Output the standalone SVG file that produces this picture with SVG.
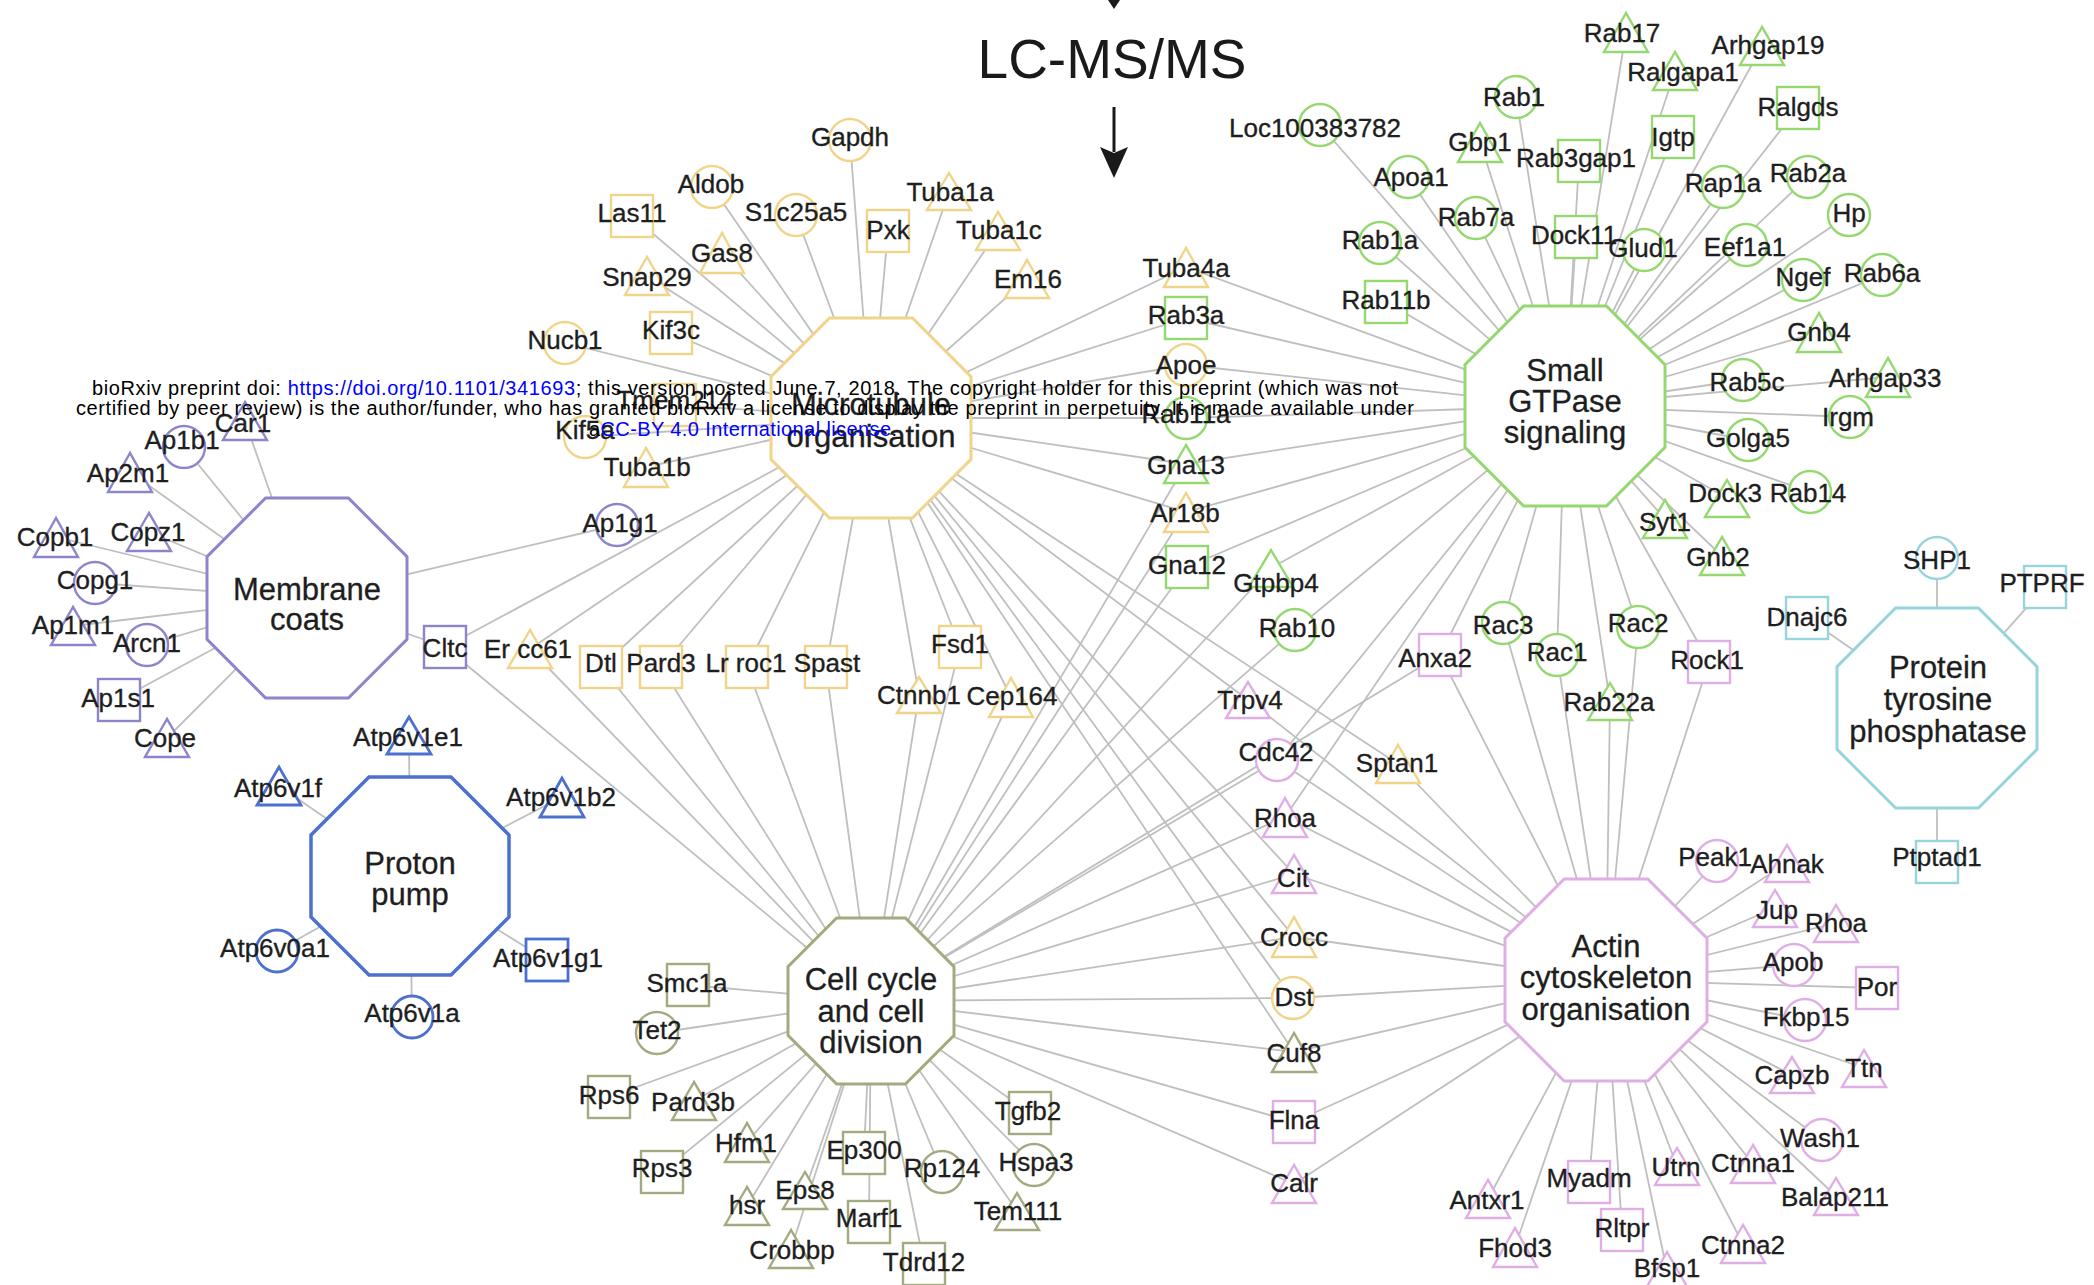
<svg xmlns="http://www.w3.org/2000/svg" width="2094" height="1285" viewBox="0 0 2094 1285">
<style>
.bg{fill:#fff}
#connectors line{stroke:#bfbfbf;stroke-width:1.8}
.s{fill:#fff;stroke-width:2.4}
.hub polygon{fill:#fff;stroke-width:3}
.y{stroke:#f0d48a}.g{stroke:#94d86f}.p{stroke:#dfaee4}.o{stroke:#a3aa80}.u{stroke:#8c85c9}.b{stroke:#4c70cf;stroke-width:2.8}.c{stroke:#98d4db}
text{font-family:"Liberation Sans",Arial,sans-serif;fill:#1e1e1e;text-anchor:middle}
.l{font-size:26px;stroke:#1e1e1e;stroke-width:0.35}
.hub text{font-size:31px;stroke:#1e1e1e;stroke-width:0.3}
.hdr{font-size:20px;fill:#000}
.lnk{fill:#0000ff}
</style>
<rect class="bg" x="0" y="0" width="2094" height="1285"/>
<g id="connectors">
<!-- Microtubule -->
<line x1="871" y1="418" x2="850" y2="140"/><line x1="871" y1="418" x2="712" y2="187"/><line x1="871" y1="418" x2="632" y2="216"/><line x1="871" y1="418" x2="796" y2="215"/><line x1="871" y1="418" x2="888" y2="231"/><line x1="871" y1="418" x2="949" y2="192"/><line x1="871" y1="418" x2="998" y2="231"/><line x1="871" y1="418" x2="1027" y2="279"/><line x1="871" y1="418" x2="722" y2="253"/><line x1="871" y1="418" x2="647" y2="276"/><line x1="871" y1="418" x2="671" y2="333"/><line x1="871" y1="418" x2="565" y2="343"/><line x1="871" y1="418" x2="675" y2="405"/><line x1="871" y1="418" x2="585" y2="437"/><line x1="871" y1="418" x2="646" y2="467"/><line x1="871" y1="418" x2="1186" y2="267"/><line x1="871" y1="418" x2="1186" y2="318"/><line x1="871" y1="418" x2="1186" y2="365"/><line x1="871" y1="418" x2="1186" y2="418"/><line x1="871" y1="418" x2="1186" y2="464"/><line x1="871" y1="418" x2="1186" y2="512"/><line x1="871" y1="418" x2="530" y2="649"/><line x1="871" y1="418" x2="601" y2="667"/><line x1="871" y1="418" x2="661" y2="667"/><line x1="871" y1="418" x2="747" y2="667"/><line x1="871" y1="418" x2="826" y2="667"/><line x1="871" y1="418" x2="960" y2="647"/><line x1="871" y1="418" x2="919" y2="695"/><line x1="871" y1="418" x2="1011" y2="697"/><line x1="871" y1="418" x2="1398" y2="764"/><line x1="871" y1="418" x2="1294" y2="937"/><line x1="871" y1="418" x2="1293" y2="998"/><line x1="871" y1="418" x2="445" y2="647"/><line x1="871" y1="418" x2="1248" y2="700"/><line x1="871" y1="418" x2="1294" y2="874"/><line x1="871" y1="418" x2="1294" y2="1052"/>
<!-- Cell cycle -->
<line x1="871" y1="1001" x2="688" y2="985"/><line x1="871" y1="1001" x2="657" y2="1033"/><line x1="871" y1="1001" x2="609" y2="1097"/><line x1="871" y1="1001" x2="694" y2="1101"/><line x1="871" y1="1001" x2="747" y2="1142"/><line x1="871" y1="1001" x2="662" y2="1172"/><line x1="871" y1="1001" x2="864" y2="1153"/><line x1="871" y1="1001" x2="942" y2="1172"/><line x1="871" y1="1001" x2="747" y2="1206"/><line x1="871" y1="1001" x2="805" y2="1190"/><line x1="871" y1="1001" x2="869" y2="1222"/><line x1="871" y1="1001" x2="791" y2="1249"/><line x1="871" y1="1001" x2="924" y2="1264"/><line x1="871" y1="1001" x2="1030" y2="1113"/><line x1="871" y1="1001" x2="1034" y2="1165"/><line x1="871" y1="1001" x2="1017" y2="1211"/><line x1="871" y1="1001" x2="1294" y2="1052"/><line x1="871" y1="1001" x2="530" y2="649"/><line x1="871" y1="1001" x2="601" y2="667"/><line x1="871" y1="1001" x2="661" y2="667"/><line x1="871" y1="1001" x2="747" y2="667"/><line x1="871" y1="1001" x2="826" y2="667"/><line x1="871" y1="1001" x2="960" y2="647"/><line x1="871" y1="1001" x2="919" y2="695"/><line x1="871" y1="1001" x2="1011" y2="697"/><line x1="871" y1="1001" x2="445" y2="647"/><line x1="871" y1="1001" x2="1186" y2="464"/><line x1="871" y1="1001" x2="1186" y2="512"/><line x1="871" y1="1001" x2="1187" y2="567"/><line x1="871" y1="1001" x2="1271" y2="568"/><line x1="871" y1="1001" x2="1295" y2="630"/><line x1="871" y1="1001" x2="1277" y2="760"/><line x1="871" y1="1001" x2="1285" y2="817"/><line x1="871" y1="1001" x2="1294" y2="874"/><line x1="871" y1="1001" x2="1294" y2="937"/><line x1="871" y1="1001" x2="1293" y2="998"/><line x1="871" y1="1001" x2="1294" y2="1122"/><line x1="871" y1="1001" x2="1294" y2="1184"/><line x1="871" y1="1001" x2="1440" y2="655"/>
<!-- Small GTPase -->
<line x1="1565" y1="406" x2="1320" y2="125"/><line x1="1565" y1="406" x2="1516" y2="97"/><line x1="1565" y1="406" x2="1480" y2="142"/><line x1="1565" y1="406" x2="1408" y2="177"/><line x1="1565" y1="406" x2="1579" y2="161"/><line x1="1565" y1="406" x2="1476" y2="218"/><line x1="1565" y1="406" x2="1576" y2="237"/><line x1="1565" y1="406" x2="1380" y2="243"/><line x1="1565" y1="406" x2="1386" y2="302"/><line x1="1565" y1="406" x2="1626" y2="32"/><line x1="1565" y1="406" x2="1762" y2="46"/><line x1="1565" y1="406" x2="1675" y2="71"/><line x1="1565" y1="406" x2="1798" y2="108"/><line x1="1565" y1="406" x2="1673" y2="137"/><line x1="1565" y1="406" x2="1723" y2="187"/><line x1="1565" y1="406" x2="1808" y2="177"/><line x1="1565" y1="406" x2="1849" y2="215"/><line x1="1565" y1="406" x2="1644" y2="250"/><line x1="1565" y1="406" x2="1746" y2="245"/><line x1="1565" y1="406" x2="1803" y2="280"/><line x1="1565" y1="406" x2="1882" y2="275"/><line x1="1565" y1="406" x2="1819" y2="332"/><line x1="1565" y1="406" x2="1743" y2="380"/><line x1="1565" y1="406" x2="1888" y2="377"/><line x1="1565" y1="406" x2="1850" y2="417"/><line x1="1565" y1="406" x2="1748" y2="440"/><line x1="1565" y1="406" x2="1727" y2="498"/><line x1="1565" y1="406" x2="1810" y2="492"/><line x1="1565" y1="406" x2="1665" y2="519"/><line x1="1565" y1="406" x2="1722" y2="556"/><line x1="1565" y1="406" x2="1186" y2="267"/><line x1="1565" y1="406" x2="1186" y2="318"/><line x1="1565" y1="406" x2="1186" y2="365"/><line x1="1565" y1="406" x2="1186" y2="418"/><line x1="1565" y1="406" x2="1186" y2="464"/><line x1="1565" y1="406" x2="1186" y2="512"/><line x1="1565" y1="406" x2="1187" y2="567"/><line x1="1565" y1="406" x2="1271" y2="568"/><line x1="1565" y1="406" x2="1295" y2="630"/><line x1="1565" y1="406" x2="1503" y2="623"/><line x1="1565" y1="406" x2="1557" y2="655"/><line x1="1565" y1="406" x2="1638" y2="627"/><line x1="1565" y1="406" x2="1610" y2="701"/><line x1="1565" y1="406" x2="1440" y2="655"/><line x1="1565" y1="406" x2="1709" y2="662"/><line x1="1565" y1="406" x2="1277" y2="760"/><line x1="1565" y1="406" x2="1285" y2="817"/>
<!-- Actin -->
<line x1="1606" y1="980" x2="1717" y2="861"/><line x1="1606" y1="980" x2="1787" y2="863"/><line x1="1606" y1="980" x2="1775" y2="908"/><line x1="1606" y1="980" x2="1836" y2="923"/><line x1="1606" y1="980" x2="1794" y2="965"/><line x1="1606" y1="980" x2="1877" y2="988"/><line x1="1606" y1="980" x2="1805" y2="1020"/><line x1="1606" y1="980" x2="1792" y2="1075"/><line x1="1606" y1="980" x2="1864" y2="1068"/><line x1="1606" y1="980" x2="1822" y2="1140"/><line x1="1606" y1="980" x2="1753" y2="1164"/><line x1="1606" y1="980" x2="1836" y2="1196"/><line x1="1606" y1="980" x2="1677" y2="1166"/><line x1="1606" y1="980" x2="1589" y2="1182"/><line x1="1606" y1="980" x2="1622" y2="1230"/><line x1="1606" y1="980" x2="1743" y2="1244"/><line x1="1606" y1="980" x2="1667" y2="1271"/><line x1="1606" y1="980" x2="1488" y2="1199"/><line x1="1606" y1="980" x2="1515" y2="1247"/><line x1="1606" y1="980" x2="1440" y2="655"/><line x1="1606" y1="980" x2="1709" y2="662"/><line x1="1606" y1="980" x2="1248" y2="700"/><line x1="1606" y1="980" x2="1277" y2="760"/><line x1="1606" y1="980" x2="1285" y2="817"/><line x1="1606" y1="980" x2="1294" y2="874"/><line x1="1606" y1="980" x2="1294" y2="937"/><line x1="1606" y1="980" x2="1293" y2="998"/><line x1="1606" y1="980" x2="1294" y2="1052"/><line x1="1606" y1="980" x2="1294" y2="1122"/><line x1="1606" y1="980" x2="1294" y2="1184"/><line x1="1606" y1="980" x2="1398" y2="764"/><line x1="1606" y1="980" x2="1503" y2="623"/><line x1="1606" y1="980" x2="1557" y2="655"/><line x1="1606" y1="980" x2="1638" y2="627"/><line x1="1606" y1="980" x2="1610" y2="701"/>
<!-- Membrane coats -->
<line x1="307" y1="598" x2="245" y2="421"/><line x1="307" y1="598" x2="184" y2="447"/><line x1="307" y1="598" x2="130" y2="472"/><line x1="307" y1="598" x2="56" y2="537"/><line x1="307" y1="598" x2="149" y2="532"/><line x1="307" y1="598" x2="95" y2="583"/><line x1="307" y1="598" x2="73" y2="626"/><line x1="307" y1="598" x2="147" y2="645"/><line x1="307" y1="598" x2="119" y2="700"/><line x1="307" y1="598" x2="167" y2="738"/><line x1="307" y1="598" x2="445" y2="647"/><line x1="307" y1="598" x2="617" y2="525"/>
<!-- Proton pump -->
<line x1="410" y1="876" x2="409" y2="735"/><line x1="410" y1="876" x2="279" y2="786"/><line x1="410" y1="876" x2="562" y2="797"/><line x1="410" y1="876" x2="547" y2="960"/><line x1="410" y1="876" x2="277" y2="951"/><line x1="410" y1="876" x2="412" y2="1017"/>
<!-- Protein tyrosine phosphatase -->
<line x1="1937" y1="708" x2="1937" y2="558"/><line x1="1937" y1="708" x2="2045" y2="587"/><line x1="1937" y1="708" x2="1807" y2="618"/><line x1="1937" y1="708" x2="1937" y2="862"/>
</g>

<g id="title">
<polygon points="1100,-12 1128,-12 1114,9" fill="#1a1a1a"/>
<text x="1112" y="78" style="font-size:55px;fill:#1a1a1a">LC-MS/MS</text>
<line x1="1114" y1="107" x2="1114" y2="152" stroke="#1a1a1a" stroke-width="3"/>
<polygon points="1100,147 1114,153 1128,147 1114,178" fill="#1a1a1a"/>
</g>

<!-- Hubs -->
<g id="hub-microtubule" class="hub"><polygon class="y" points="829.6,318 912.4,318 971,376.6 971,459.4 912.4,518 829.6,518 771,459.4 771,376.6"/><text x="871" y="415">Microtubule</text><text x="871" y="447">organisation</text></g>
<g id="hub-gtpase" class="hub"><polygon class="g" points="1523.6,306 1606.4,306 1665,364.6 1665,447.4 1606.4,506 1523.6,506 1465,447.4 1465,364.6"/><text x="1565" y="381">Small</text><text x="1565" y="412">GTPase</text><text x="1565" y="443">signaling</text></g>
<g id="hub-membrane" class="hub"><polygon class="u" points="265.6,498 348.4,498 407,556.6 407,639.4 348.4,698 265.6,698 207,639.4 207,556.6"/><text x="307" y="600">Membrane</text><text x="307" y="630">coats</text></g>
<g id="hub-proton" class="hub"><polygon class="b" style="stroke-width:3.5" points="369,777 451,777 509,835 509,917 451,975 369,975 311,917 311,835"/><text x="410" y="874">Proton</text><text x="410" y="905">pump</text></g>
<g id="hub-cellcycle" class="hub"><polygon class="o" points="836.6,918 905.4,918 954,966.6 954,1035.4 905.4,1084 836.6,1084 788,1035.4 788,966.6"/><text x="871" y="990">Cell cycle</text><text x="871" y="1022">and cell</text><text x="871" y="1053">division</text></g>
<g id="hub-actin" class="hub"><polygon class="p" points="1564.2,879 1647.8,879 1707,938.2 1707,1021.8 1647.8,1081 1564.2,1081 1505,1021.8 1505,938.2"/><text x="1606" y="957">Actin</text><text x="1606" y="988">cytoskeleton</text><text x="1606" y="1020">organisation</text></g>
<g id="hub-ptp" class="hub"><polygon class="c" points="1895.6,608 1978.4,608 2037,666.6 2037,749.4 1978.4,808 1895.6,808 1837,749.4 1837,666.6"/><text x="1938" y="678">Protein</text><text x="1938" y="710">tyrosine</text><text x="1938" y="742">phosphatase</text></g>

<!-- Microtubule nodes -->
<g id="n-gapdh"><circle class="s y" cx="850" cy="140" r="21"/><text class="l" x="850" y="146">Gapdh</text></g>
<g id="n-aldob"><circle class="s y" cx="712" cy="187" r="21"/><text class="l" x="711" y="193">Aldob</text></g>
<g id="n-las11"><rect class="s y" x="611" y="195" width="42" height="42"/><text class="l" x="632" y="222">Las11</text></g>
<g id="n-s1c25a5"><circle class="s y" cx="796" cy="215" r="21"/><text class="l" x="796" y="221">S1c25a5</text></g>
<g id="n-pxk"><rect class="s y" x="867" y="210" width="42" height="42"/><text class="l" x="888" y="239">Pxk</text></g>
<g id="n-tuba1a"><polygon class="s y" points="949,173 927,210 971,210"/><text class="l" x="950" y="201">Tuba1a</text></g>
<g id="n-tuba1c"><polygon class="s y" points="998,212 976,250 1020,250"/><text class="l" x="999" y="239">Tuba1c</text></g>
<g id="n-em16"><polygon class="s y" points="1027,260 1005,298 1049,298"/><text class="l" x="1028" y="288">Em16</text></g>
<g id="n-gas8"><polygon class="s y" points="722,233 700,273 744,273"/><text class="l" x="722" y="262">Gas8</text></g>
<g id="n-snap29"><polygon class="s y" points="647,257 625,295 669,295"/><text class="l" x="647" y="286">Snap29</text></g>
<g id="n-kif3c"><rect class="s y" x="650" y="312" width="42" height="42"/><text class="l" x="671" y="339">Kif3c</text></g>
<g id="n-nucb1"><circle class="s y" cx="565" cy="343" r="21"/><text class="l" x="565" y="349">Nucb1</text></g>
<g id="n-tmem214"><rect class="s y" x="654" y="384" width="42" height="42"/><text class="l" x="675" y="409">Tmem214</text></g>
<g id="n-kif5a"><circle class="s y" cx="585" cy="437" r="21"/><text class="l" x="585" y="439">Kif5a</text></g>
<g id="n-tuba1b"><polygon class="s y" points="646,448 624,487 668,487"/><text class="l" x="647" y="476">Tuba1b</text></g>
<g id="n-tuba4a"><polygon class="s y" points="1186,248 1164,287 1208,287"/><text class="l" x="1186" y="277">Tuba4a</text></g>
<g id="n-apoe"><circle class="s y" cx="1186" cy="365" r="21"/><text class="l" x="1186" y="374">Apoe</text></g>
<g id="n-ar18b"><polygon class="s y" points="1186,493 1164,532 1208,532"/><text class="l" x="1185" y="522">Ar18b</text></g>
<g id="n-ercc61"><polygon class="s y" points="530,630 508,668 552,668"/><text class="l" x="528" y="658">Er cc61</text></g>
<g id="n-dtl"><rect class="s y" x="580" y="646" width="42" height="42"/><text class="l" x="601" y="672">Dtl</text></g>
<g id="n-pard3"><rect class="s y" x="640" y="646" width="42" height="42"/><text class="l" x="661" y="672">Pard3</text></g>
<g id="n-lrroc1"><rect class="s y" x="726" y="646" width="42" height="42"/><text class="l" x="746" y="672">Lr roc1</text></g>
<g id="n-spast"><rect class="s y" x="805" y="646" width="42" height="42"/><text class="l" x="827" y="672">Spast</text></g>
<g id="n-fsd1"><rect class="s y" x="939" y="626" width="42" height="42"/><text class="l" x="960" y="653">Fsd1</text></g>
<g id="n-ctnnb1"><polygon class="s y" points="919,677 897,713 941,713"/><text class="l" x="919" y="704">Ctnnb1</text></g>
<g id="n-cep164"><polygon class="s y" points="1011,678 989,717 1033,717"/><text class="l" x="1012" y="705">Cep164</text></g>
<g id="n-sptan1"><polygon class="s y" points="1398,745 1376,783 1420,783"/><text class="l" x="1397" y="772">Sptan1</text></g>
<g id="n-crocc"><polygon class="s y" points="1294,917 1272,957 1316,957"/><text class="l" x="1294" y="946">Crocc</text></g>
<g id="n-dst"><circle class="s y" cx="1293" cy="998" r="21"/><text class="l" x="1294" y="1006">Dst</text></g>

<!-- Small GTPase nodes -->
<g id="n-loc100383782"><circle class="s g" cx="1320" cy="125" r="21"/><text class="l" x="1315" y="137">Loc100383782</text></g>
<g id="n-rab1"><circle class="s g" cx="1516" cy="97" r="21"/><text class="l" x="1514" y="106">Rab1</text></g>
<g id="n-gbp1"><polygon class="s g" points="1480,123 1458,162 1502,162"/><text class="l" x="1480" y="151">Gbp1</text></g>
<g id="n-apoa1"><circle class="s g" cx="1408" cy="177" r="21"/><text class="l" x="1411" y="186">Apoa1</text></g>
<g id="n-rab3gap1"><rect class="s g" x="1558" y="140" width="42" height="42"/><text class="l" x="1576" y="167">Rab3gap1</text></g>
<g id="n-rab7a"><circle class="s g" cx="1476" cy="218" r="21"/><text class="l" x="1476" y="226">Rab7a</text></g>
<g id="n-dock11"><rect class="s g" x="1555" y="216" width="42" height="42"/><text class="l" x="1574" y="244">Dock11</text></g>
<g id="n-rab1a"><circle class="s g" cx="1380" cy="243" r="21"/><text class="l" x="1380" y="249">Rab1a</text></g>
<g id="n-rab11b"><rect class="s g" x="1365" y="281" width="42" height="42"/><text class="l" x="1386" y="309">Rab11b</text></g>
<g id="n-rab17"><polygon class="s g" points="1626,13 1604,52 1648,52"/><text class="l" x="1622" y="42">Rab17</text></g>
<g id="n-arhgap19"><polygon class="s g" points="1762,27 1740,65 1784,65"/><text class="l" x="1768" y="54">Arhgap19</text></g>
<g id="n-ralgapa1"><polygon class="s g" points="1675,52 1653,90 1697,90"/><text class="l" x="1683" y="81">Ralgapa1</text></g>
<g id="n-ralgds"><rect class="s g" x="1777" y="87" width="42" height="42"/><text class="l" x="1798" y="116">Ralgds</text></g>
<g id="n-igtp"><rect class="s g" x="1652" y="116" width="42" height="42"/><text class="l" x="1673" y="146">Igtp</text></g>
<g id="n-rap1a"><circle class="s g" cx="1723" cy="187" r="21"/><text class="l" x="1723" y="192">Rap1a</text></g>
<g id="n-rab2a"><circle class="s g" cx="1808" cy="177" r="21"/><text class="l" x="1808" y="182">Rab2a</text></g>
<g id="n-hp"><circle class="s g" cx="1849" cy="215" r="21"/><text class="l" x="1849" y="222">Hp</text></g>
<g id="n-glud1"><circle class="s g" cx="1644" cy="250" r="21"/><text class="l" x="1643" y="257">Glud1</text></g>
<g id="n-eef1a1"><circle class="s g" cx="1746" cy="245" r="21"/><text class="l" x="1745" y="256">Eef1a1</text></g>
<g id="n-ngef"><circle class="s g" cx="1803" cy="280" r="21"/><text class="l" x="1803" y="286">Ngef</text></g>
<g id="n-rab6a"><circle class="s g" cx="1882" cy="275" r="21"/><text class="l" x="1882" y="282">Rab6a</text></g>
<g id="n-gnb4"><polygon class="s g" points="1819,313 1797,352 1841,352"/><text class="l" x="1819" y="341">Gnb4</text></g>
<g id="n-rab5c"><circle class="s g" cx="1743" cy="380" r="21"/><text class="l" x="1747" y="391">Rab5c</text></g>
<g id="n-arhgap33"><polygon class="s g" points="1888,358 1866,397 1910,397"/><text class="l" x="1885" y="387">Arhgap33</text></g>
<g id="n-irgm"><circle class="s g" cx="1850" cy="417" r="21"/><text class="l" x="1848" y="426">Irgm</text></g>
<g id="n-golga5"><circle class="s g" cx="1748" cy="440" r="21"/><text class="l" x="1748" y="447">Golga5</text></g>
<g id="n-dock3"><polygon class="s g" points="1727,480 1705,517 1749,517"/><text class="l" x="1725" y="502">Dock3</text></g>
<g id="n-rab14"><circle class="s g" cx="1810" cy="492" r="21"/><text class="l" x="1808" y="502">Rab14</text></g>
<g id="n-syt1"><polygon class="s g" points="1665,500 1643,538 1687,538"/><text class="l" x="1665" y="531">Syt1</text></g>
<g id="n-gnb2"><polygon class="s g" points="1722,537 1700,575 1744,575"/><text class="l" x="1718" y="566">Gnb2</text></g>
<g id="n-rab3a"><rect class="s g" x="1165" y="297" width="42" height="42"/><text class="l" x="1186" y="324">Rab3a</text></g>
<g id="n-rab11a"><circle class="s g" cx="1186" cy="418" r="21"/><text class="l" x="1186" y="423">Rab11a</text></g>
<g id="n-gna13"><polygon class="s g" points="1186,445 1164,483 1208,483"/><text class="l" x="1186" y="474">Gna13</text></g>
<g id="n-gna12"><rect class="s g" x="1166" y="546" width="42" height="42"/><text class="l" x="1187" y="574">Gna12</text></g>
<g id="n-gtpbp4"><polygon class="s g" points="1271,550 1249,587 1293,587"/><text class="l" x="1276" y="592">Gtpbp4</text></g>
<g id="n-rab10"><circle class="s g" cx="1295" cy="630" r="21"/><text class="l" x="1297" y="637">Rab10</text></g>
<g id="n-rac3"><circle class="s g" cx="1503" cy="623" r="21"/><text class="l" x="1503" y="634">Rac3</text></g>
<g id="n-rac1"><circle class="s g" cx="1557" cy="655" r="21"/><text class="l" x="1557" y="661">Rac1</text></g>
<g id="n-rac2"><circle class="s g" cx="1638" cy="627" r="21"/><text class="l" x="1638" y="632">Rac2</text></g>
<g id="n-rab22a"><polygon class="s g" points="1610,683 1588,720 1632,720"/><text class="l" x="1609" y="711">Rab22a</text></g>

<!-- Actin nodes -->
<g id="n-peak1"><circle class="s p" cx="1717" cy="861" r="21"/><text class="l" x="1715" y="866">Peak1</text></g>
<g id="n-ahnak"><polygon class="s p" points="1787,845 1765,882 1809,882"/><text class="l" x="1787" y="873">Ahnak</text></g>
<g id="n-jup"><polygon class="s p" points="1775,890 1753,927 1797,927"/><text class="l" x="1777" y="919">Jup</text></g>
<g id="n-rhoa2"><polygon class="s p" points="1836,905 1814,942 1858,942"/><text class="l" x="1836" y="932">Rhoa</text></g>
<g id="n-apob"><circle class="s p" cx="1794" cy="965" r="21"/><text class="l" x="1793" y="971">Apob</text></g>
<g id="n-por"><rect class="s p" x="1856" y="967" width="42" height="42"/><text class="l" x="1877" y="996">Por</text></g>
<g id="n-fkbp15"><circle class="s p" cx="1805" cy="1020" r="21"/><text class="l" x="1806" y="1026">Fkbp15</text></g>
<g id="n-capzb"><polygon class="s p" points="1792,1057 1770,1093 1814,1093"/><text class="l" x="1792" y="1084">Capzb</text></g>
<g id="n-ttn"><polygon class="s p" points="1864,1050 1842,1087 1886,1087"/><text class="l" x="1864" y="1077">Ttn</text></g>
<g id="n-wash1"><circle class="s p" cx="1822" cy="1140" r="21"/><text class="l" x="1820" y="1147">Wash1</text></g>
<g id="n-ctnna1"><polygon class="s p" points="1753,1145 1731,1183 1775,1183"/><text class="l" x="1753" y="1172">Ctnna1</text></g>
<g id="n-balap211"><polygon class="s p" points="1836,1178 1814,1215 1858,1215"/><text class="l" x="1835" y="1206">Balap211</text></g>
<g id="n-utrn"><polygon class="s p" points="1677,1148 1655,1185 1699,1185"/><text class="l" x="1676" y="1176">Utrn</text></g>
<g id="n-myadm"><rect class="s p" x="1568" y="1161" width="42" height="42"/><text class="l" x="1589" y="1187">Myadm</text></g>
<g id="n-rltpr"><rect class="s p" x="1601" y="1209" width="42" height="42"/><text class="l" x="1622" y="1237">Rltpr</text></g>
<g id="n-ctnna2"><polygon class="s p" points="1743,1225 1721,1263 1765,1263"/><text class="l" x="1743" y="1254">Ctnna2</text></g>
<g id="n-bfsp1"><polygon class="s p" points="1667,1252 1645,1290 1689,1290"/><text class="l" x="1667" y="1277">Bfsp1</text></g>
<g id="n-antxr1"><polygon class="s p" points="1488,1180 1466,1218 1510,1218"/><text class="l" x="1487" y="1209">Antxr1</text></g>
<g id="n-fhod3"><polygon class="s p" points="1515,1228 1493,1267 1537,1267"/><text class="l" x="1515" y="1257">Fhod3</text></g>
<g id="n-anxa2"><rect class="s p" x="1419" y="634" width="42" height="42"/><text class="l" x="1435" y="667">Anxa2</text></g>
<g id="n-rock1"><rect class="s p" x="1688" y="641" width="42" height="42"/><text class="l" x="1707" y="669">Rock1</text></g>
<g id="n-trpv4"><polygon class="s p" points="1248,682 1226,718 1270,718"/><text class="l" x="1250" y="709">Trpv4</text></g>
<g id="n-cdc42"><circle class="s p" cx="1277" cy="760" r="21"/><text class="l" x="1276" y="761">Cdc42</text></g>
<g id="n-rhoa"><polygon class="s p" points="1285,798 1263,837 1307,837"/><text class="l" x="1285" y="827">Rhoa</text></g>
<g id="n-cit"><polygon class="s p" points="1294,855 1272,893 1316,893"/><text class="l" x="1293" y="887">Cit</text></g>
<g id="n-flna"><rect class="s p" x="1273" y="1101" width="42" height="42"/><text class="l" x="1294" y="1129">Flna</text></g>
<g id="n-calr"><polygon class="s p" points="1294,1165 1272,1203 1316,1203"/><text class="l" x="1294" y="1192">Calr</text></g>

<!-- Cell cycle nodes -->
<g id="n-smc1a"><rect class="s o" x="667" y="964" width="42" height="42"/><text class="l" x="687" y="992">Smc1a</text></g>
<g id="n-tet2"><circle class="s o" cx="657" cy="1033" r="21"/><text class="l" x="657" y="1039">Tet2</text></g>
<g id="n-rps6"><rect class="s o" x="588" y="1076" width="42" height="42"/><text class="l" x="609" y="1104">Rps6</text></g>
<g id="n-pard3b"><polygon class="s o" points="694,1082 672,1120 716,1120"/><text class="l" x="693" y="1111">Pard3b</text></g>
<g id="n-hfm1"><polygon class="s o" points="747,1123 725,1162 769,1162"/><text class="l" x="746" y="1152">Hfm1</text></g>
<g id="n-rps3"><rect class="s o" x="641" y="1151" width="42" height="42"/><text class="l" x="662" y="1177">Rps3</text></g>
<g id="n-ep300"><rect class="s o" x="843" y="1132" width="42" height="42"/><text class="l" x="864" y="1159">Ep300</text></g>
<g id="n-rp124"><circle class="s o" cx="942" cy="1172" r="21"/><text class="l" x="942" y="1177">Rp124</text></g>
<g id="n-hsr"><polygon class="s o" points="747,1187 725,1225 769,1225"/><text class="l" x="747" y="1214">hsr</text></g>
<g id="n-eps8"><polygon class="s o" points="805,1172 783,1209 827,1209"/><text class="l" x="805" y="1199">Eps8</text></g>
<g id="n-marf1"><rect class="s o" x="848" y="1201" width="42" height="42"/><text class="l" x="869" y="1227">Marf1</text></g>
<g id="n-crobbp"><polygon class="s o" points="791,1230 769,1268 813,1268"/><text class="l" x="792" y="1259">Crobbp</text></g>
<g id="n-tdrd12"><rect class="s o" x="903" y="1243" width="42" height="42"/><text class="l" x="924" y="1271">Tdrd12</text></g>
<g id="n-tgfb2"><rect class="s o" x="1009" y="1092" width="42" height="42"/><text class="l" x="1028" y="1120">Tgfb2</text></g>
<g id="n-hspa3"><circle class="s o" cx="1034" cy="1165" r="21"/><text class="l" x="1036" y="1171">Hspa3</text></g>
<g id="n-tem111"><polygon class="s o" points="1017,1193 995,1230 1039,1230"/><text class="l" x="1018" y="1220">Tem111</text></g>
<g id="n-cuf8"><polygon class="s o" points="1294,1033 1272,1072 1316,1072"/><text class="l" x="1294" y="1062">Cuf8</text></g>

<!-- Membrane coats nodes -->
<g id="n-car1"><polygon class="s u" points="245,402 223,440 267,440"/><text class="l" x="243" y="432">Car1</text></g>
<g id="n-ap1b1"><circle class="s u" cx="184" cy="447" r="21"/><text class="l" x="182" y="449">Ap1b1</text></g>
<g id="n-ap2m1"><polygon class="s u" points="130,453 108,492 152,492"/><text class="l" x="128" y="482">Ap2m1</text></g>
<g id="n-copb1"><polygon class="s u" points="56,518 34,557 78,557"/><text class="l" x="55" y="546">Copb1</text></g>
<g id="n-copz1"><polygon class="s u" points="149,513 127,551 171,551"/><text class="l" x="148" y="541">Copz1</text></g>
<g id="n-copg1"><circle class="s u" cx="95" cy="583" r="21"/><text class="l" x="95" y="589">Copg1</text></g>
<g id="n-ap1m1"><polygon class="s u" points="73,607 51,645 95,645"/><text class="l" x="73" y="634">Ap1m1</text></g>
<g id="n-arcn1"><circle class="s u" cx="147" cy="645" r="21"/><text class="l" x="147" y="652">Arcn1</text></g>
<g id="n-ap1s1"><rect class="s u" x="98" y="679" width="42" height="42"/><text class="l" x="118" y="707">Ap1s1</text></g>
<g id="n-cope"><polygon class="s u" points="167,719 145,757 189,757"/><text class="l" x="165" y="747">Cope</text></g>
<g id="n-cltc"><rect class="s u" x="424" y="626" width="42" height="42"/><text class="l" x="445" y="657">Cltc</text></g>
<g id="n-ap1g1"><circle class="s u" cx="617" cy="525" r="21"/><text class="l" x="620" y="532">Ap1g1</text></g>

<!-- Proton pump nodes -->
<g id="n-atp6v1e1"><polygon class="s b" points="409,717 387,754 431,754"/><text class="l" x="408" y="746">Atp6v1e1</text></g>
<g id="n-atp6v1f"><polygon class="s b" points="279,767 257,805 301,805"/><text class="l" x="278" y="797">Atp6v1f</text></g>
<g id="n-atp6v1b2"><polygon class="s b" points="562,778 540,817 584,817"/><text class="l" x="561" y="806">Atp6v1b2</text></g>
<g id="n-atp6v1g1"><rect class="s b" x="526" y="939" width="42" height="42"/><text class="l" x="548" y="967">Atp6v1g1</text></g>
<g id="n-atp6v0a1"><circle class="s b" cx="277" cy="951" r="21"/><text class="l" x="275" y="957">Atp6v0a1</text></g>
<g id="n-atp6v1a"><circle class="s b" cx="412" cy="1017" r="21"/><text class="l" x="412" y="1022">Atp6v1a</text></g>

<!-- PTP nodes -->
<g id="n-shp1"><circle class="s c" cx="1937" cy="558" r="21"/><text class="l" x="1937" y="569">SHP1</text></g>
<g id="n-ptprf"><rect class="s c" x="2024" y="566" width="42" height="42"/><text class="l" x="2042" y="592">PTPRF</text></g>
<g id="n-dnajc6"><rect class="s c" x="1786" y="597" width="42" height="42"/><text class="l" x="1807" y="626">Dnajc6</text></g>
<g id="n-ptptad1"><rect class="s c" x="1916" y="841" width="42" height="42"/><text class="l" x="1937" y="866">Ptptad1</text></g>

<!-- Preprint header -->
<g id="header">
<text class="hdr" x="745" y="395" textLength="1306">bioRxiv preprint doi: <tspan class="lnk">https://doi.org/10.1101/341693</tspan>; this version posted June 7, 2018. The copyright holder for this preprint (which was not</text>
<text class="hdr" x="745" y="415" textLength="1338">certified by peer review) is the author/funder, who has granted bioRxiv a license to display the preprint in perpetuity. It is made available under</text>
<text class="hdr" x="743" y="436" textLength="308">a<tspan class="lnk">CC-BY 4.0 International license</tspan>.</text>
</g>
</svg>
